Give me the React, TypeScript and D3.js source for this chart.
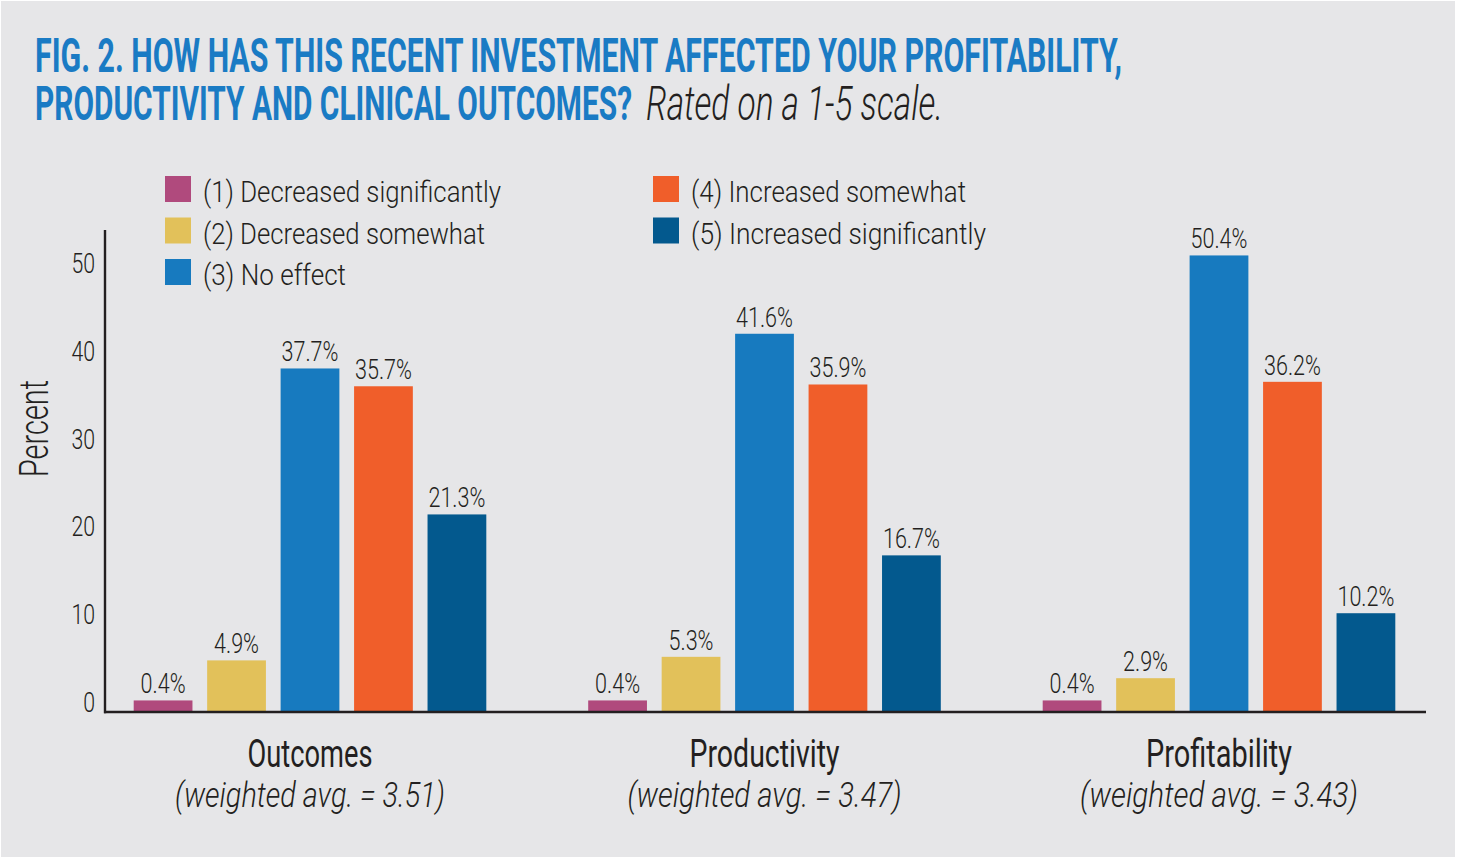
import React from "react";
import * as d3 from "d3";

const categories = ["Outcomes", "Productivity", "Profitability"];
const weightedAvg = ["3.51", "3.47", "3.43"];
const seriesKeys = ["d1", "d2", "n3", "i4", "i5"];
const seriesNames = [
  "(1) Decreased significantly",
  "(2) Decreased somewhat",
  "(3) No effect",
  "(4) Increased somewhat",
  "(5) Increased significantly",
];
const decreasedSignificantly = [0.4, 0.4, 0.4];
const decreasedSomewhat = [4.9, 5.3, 2.9];
const noEffect = [37.7, 41.6, 50.4];
const increasedSomewhat = [35.7, 35.9, 36.2];
const increasedSignificantly = [21.3, 16.7, 10.2];
const yTicks = [0, 10, 20, 30, 40, 50];

const seriesValues = [
  decreasedSignificantly,
  decreasedSomewhat,
  noEffect,
  increasedSomewhat,
  increasedSignificantly,
];
const colors = ["#b04a7d", "#e2c15a", "#177abf", "#f05e2a", "#03598e"];

const W = 1458;
const H = 860;
const INK = "#231f20";
const FONT = "Roboto, 'Liberation Sans', sans-serif";

// legend layout (position per series) and measured text widths
const legendPos = [
  [165, 176],
  [165, 217.5],
  [165, 259],
  [653, 176],
  [653, 217.5],
];
const legendTextLen = [298, 282, 143, 275, 295];
const catTextLen = [125, 150, 146];
const subTextLen = [270, 274, 278];

export default function App() {
  const x0 = d3.scalePoint<string>().domain(categories).range([310, 1219]);
  const x1 = d3
    .scaleBand<string>()
    .domain(seriesKeys)
    .range([-176.3, 176.3])
    .paddingInner(0.2);
  const baseY = 712;
  const yBar = d3.scaleLinear().domain([0, 50]).range([704, 259]);
  const yAxis = d3.scaleLinear().domain([0, 50]).range([712, 273]);

  const bars: any[] = [];
  categories.forEach((c, ci) => {
    seriesKeys.forEach((k, si) => {
      bars.push({ c, k, v: seriesValues[si][ci], color: colors[si] });
    });
  });

  return (
    <svg
      width={W}
      height={H}
      style={{ position: "absolute", left: 0, top: 0, background: "#ffffff" }}
      fontFamily={FONT}
    >
      <rect x={1} y={1} width={1454} height={856} fill="#e6e6e8" />

      {/* Title */}
      <text
        x={35}
        y={72}
        fontSize={48}
        fontWeight={700}
        fill="#1a7bc4"
        textLength={1087}
        lengthAdjust="spacingAndGlyphs"
      >
        FIG. 2. HOW HAS THIS RECENT INVESTMENT AFFECTED YOUR PROFITABILITY,
      </text>
      <text
        x={35}
        y={120}
        fontSize={48}
        fontWeight={700}
        fill="#1a7bc4"
        textLength={597}
        lengthAdjust="spacingAndGlyphs"
      >
        PRODUCTIVITY AND CLINICAL OUTCOMES?
      </text>
      <text
        x={646}
        y={120}
        fontSize={48}
        fontWeight={300}
        fontStyle="italic"
        fill={INK}
        textLength={297}
        lengthAdjust="spacingAndGlyphs"
      >
        Rated on a 1-5 scale.
      </text>

      {/* Legend */}
      {seriesNames.map((name, i) => (
        <g key={name}>
          <rect
            x={legendPos[i][0]}
            y={legendPos[i][1]}
            width={26}
            height={26}
            fill={colors[i]}
          />
          <text
            x={legendPos[i][0] + 38}
            y={legendPos[i][1] + 26}
            fontSize={29}
            fontWeight={300}
            fill={INK}
            textLength={legendTextLen[i]}
            lengthAdjust="spacingAndGlyphs"
          >
            {name}
          </text>
        </g>
      ))}

      {/* Y axis label */}
      <text
        transform="translate(48,428.5) rotate(-90)"
        textAnchor="middle"
        fontSize={40}
        fontWeight={300}
        fill={INK}
        textLength={97}
        lengthAdjust="spacingAndGlyphs"
      >
        Percent
      </text>

      {/* Y tick labels */}
      {yTicks.map((t) => (
        <g key={t} transform={`translate(95,${yAxis(t)}) scale(0.76,1)`}>
          <text textAnchor="end" fontSize={28} fontWeight={300} fill={INK}>
            {t}
          </text>
        </g>
      ))}

      {/* Bars */}
      {bars.map((b, i) => {
        const x = (x0(b.c) as number) + (x1(b.k) as number);
        const y = yBar(b.v);
        return (
          <rect
            key={i}
            x={x}
            y={y}
            width={x1.bandwidth()}
            height={baseY + 1 - y}
            fill={b.color}
          />
        );
      })}

      {/* Value labels */}
      {bars.map((b, i) => {
        const cx = (x0(b.c) as number) + (x1(b.k) as number) + x1.bandwidth() / 2;
        const y = yBar(b.v) - 7;
        return (
          <g key={"l" + i} transform={`translate(${cx},${y}) scale(0.77,1)`}>
            <text textAnchor="middle" fontSize={28} fontWeight={300} fill={INK}>
              {b.v.toFixed(1)}%
            </text>
          </g>
        );
      })}

      {/* Axes */}
      <line x1={105} y1={230} x2={105} y2={baseY + 1.2} stroke={INK} strokeWidth={2.4} />
      <line x1={104} y1={baseY} x2={1426} y2={baseY} stroke={INK} strokeWidth={2.6} />

      {/* Category labels */}
      {categories.map((c, i) => (
        <g key={c}>
          <text
            x={x0(c)}
            y={766.5}
            textAnchor="middle"
            fontSize={39}
            fontWeight={400}
            fill={INK}
            textLength={catTextLen[i]}
            lengthAdjust="spacingAndGlyphs"
          >
            {c}
          </text>
          <text
            x={x0(c)}
            y={806.5}
            textAnchor="middle"
            fontSize={35}
            fontWeight={300}
            fontStyle="italic"
            fill={INK}
            textLength={subTextLen[i]}
            lengthAdjust="spacingAndGlyphs"
          >
            {`(weighted avg. = ${weightedAvg[i]})`}
          </text>
        </g>
      ))}
    </svg>
  );
}
